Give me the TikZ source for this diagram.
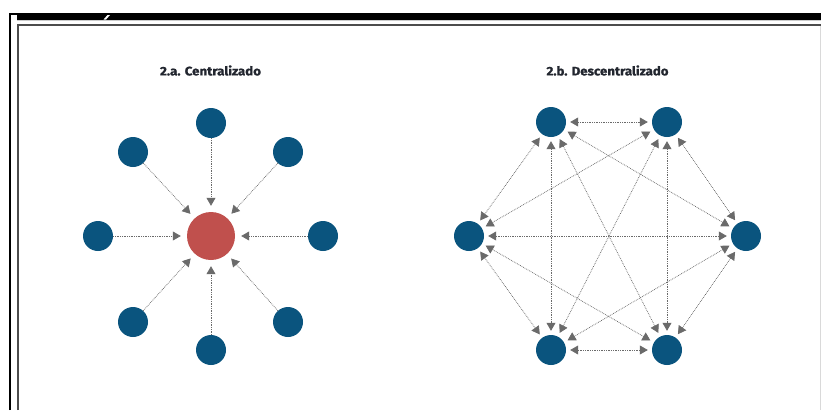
\documentclass[tikz,border=0pt]{standalone}
\usepackage{fontspec}
\setmainfont{Fira Sans}
\newfontfamily\titlefont[FakeBold=1.2]{Fira Sans}
\usetikzlibrary{arrows.meta}
\definecolor{nodeblue}{HTML}{0A547E}
\definecolor{nodered}{HTML}{C0504D}
\definecolor{arrowgray}{HTML}{6A6A6A}
\definecolor{titlecol}{HTML}{22262F}
\begin{document}
\begin{tikzpicture}[x=1pt,y=-1pt,
  bluenode/.style={circle,fill=nodeblue,minimum size=30pt,inner sep=0pt},
  rednode/.style={circle,fill=nodered,minimum size=48pt,inner sep=0pt},
  link/.style={draw=arrowgray,densely dotted,line width=0.75pt},
  onetip/.style={link,-{Triangle[length=8pt,width=9pt]},shorten >=6pt},
  twotip/.style={link,{Triangle[length=8pt,width=9pt]}-{Triangle[length=8pt,width=9pt]},shorten >=4pt,shorten <=4pt},
  titletext/.style={inner sep=0pt,text=titlecol,font=\titlefont\bfseries}
]
\useasboundingbox (0,0) rectangle (821,410);
% frame
\draw[line width=2.2pt] (10,410) -- (10,14.1) -- (821,14.1);
\fill (17,14) rectangle (821,19.5);
\fill[white] (103.5,19.6) -- (106,19.6) -- (110,15) -- (107.5,15) -- cycle;
\draw[gray!40,line width=0.7pt] (17,20.6) -- (821,20.6);
\draw[gray!60!black,line width=2pt] (18.3,410) -- (18.3,24.6) -- (821,24.6);
\draw[gray!30,line width=0.8pt] (820.4,26) -- (820.4,410);
% titles
\node[titletext] (ta) at (210.5,70.5) {\resizebox{101pt}{10pt}{2.a. Centralizado}};
\node[titletext] (tb) at (607.5,70.5) {\resizebox{122pt}{10pt}{2.b. Descentralizado}};
% centralized
\node[rednode] (c) at (211,236) {};
\node[bluenode] (a1) at (211,123) {};
\node[bluenode] (a2) at (288,152) {};
\node[bluenode] (a3) at (323,236) {};
\node[bluenode] (a4) at (288,322) {};
\node[bluenode] (a5) at (211,350) {};
\node[bluenode] (a6) at (133,322) {};
\node[bluenode] (a7) at (98,236) {};
\node[bluenode] (a8) at (133,152) {};
\foreach \n in {a1,a2,a3,a4,a5,a6,a7,a8}
  \draw[onetip] (\n) -- (c);
% decentralized
\node[bluenode] (b1) at (551,122) {};
\node[bluenode] (b2) at (667,122) {};
\node[bluenode] (b3) at (746,236) {};
\node[bluenode] (b4) at (667,350) {};
\node[bluenode] (b5) at (551,350) {};
\node[bluenode] (b6) at (469,236) {};
\foreach \i/\j in {b1/b2,b1/b3,b1/b4,b1/b5,b1/b6,b2/b3,b2/b4,b2/b5,b2/b6,b3/b4,b3/b5,b3/b6,b4/b5,b4/b6,b5/b6}
  \draw[twotip] (\i) -- (\j);
\end{tikzpicture}
\end{document}
